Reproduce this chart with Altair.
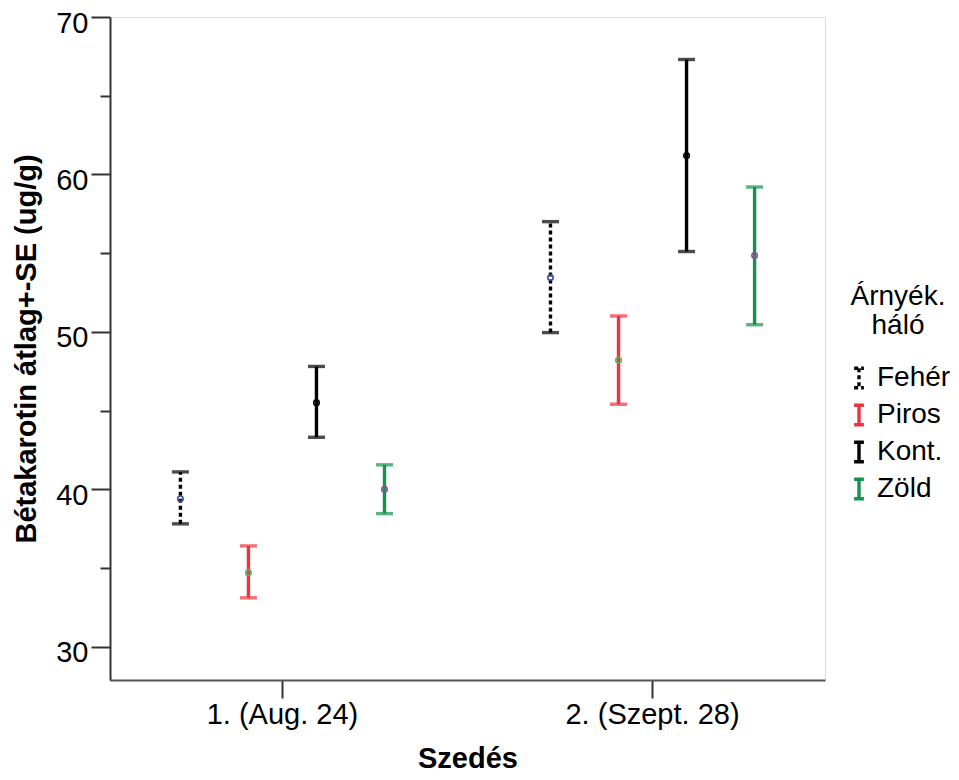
import altair as alt
import pandas as pd

harvests = ["1. (Aug. 24)", "2. (Szept. 28)"]
groups = ["Fehér", "Piros", "Kont.", "Zöld"]

mean_h1 = [39.4, 34.7, 45.5, 40.0]
low_h1 = [37.8, 33.1, 43.3, 38.45]
high_h1 = [41.1, 36.4, 47.8, 41.55]

mean_h2 = [53.45, 48.2, 61.2, 54.85]
low_h2 = [49.95, 45.4, 55.1, 50.45]
high_h2 = [57.0, 51.0, 67.3, 59.2]

bar_colors = ["#000000", "#ee3340", "#000000", "#14934a"]
marker_colors = ["#3a4f9e", "#5fb05f", "#000000", "#8c4f9a"]
dashes = [[4, 3], [1, 0], [1, 0], [1, 0]]

rows = []
for h, means, lows, highs in [
    (harvests[0], mean_h1, low_h1, high_h1),
    (harvests[1], mean_h2, low_h2, high_h2),
]:
    for i, g in enumerate(groups):
        rows.append({
            "harvest": h, "group": g, "mean": means[i], "lo": lows[i], "hi": highs[i],
            "barcolor": bar_colors[i], "markcolor": marker_colors[i],
        })
df = pd.DataFrame(rows)

FONT = "Liberation Sans"

legend = alt.Legend(
    title=["Árnyék.", "háló"],
    orient="none", legendX=735, legendY=266,
    titleFont=FONT, titleFontSize=28, titleFontWeight="normal", titleColor="black",
    titleAlign="center", titleAnchor="middle", titleLineHeight=29, titlePadding=24,
    labelFont=FONT, labelFontSize=28, labelColor="black", labelOffset=4,
    symbolType="M-0.5,-1H0.5M0,-1V1M-0.5,1H0.5", symbolSize=380, symbolStrokeWidth=3.4,
    symbolFillColor="transparent", rowPadding=3,
)

x_enc = alt.X(
    "harvest:N", sort=harvests,
    scale=alt.Scale(paddingInner=0.068, paddingOuter=0),
    axis=alt.Axis(
        title="Szedés", labelAngle=0, labelFont=FONT, labelFontSize=29, labelColor="black",
        labelPadding=2, tickSize=18, tickWidth=2, tickColor="#333", domainColor="#555",
        domainWidth=2, titleFont=FONT, titleFontSize=29, titleFontWeight="bold",
        titleColor="black", titlePadding=15,
    ),
)
xo_enc = alt.XOffset("group:N", sort=groups, scale=alt.Scale(paddingInner=0, paddingOuter=0.535))

y_scale = alt.Scale(domain=[27.88, 70], nice=False, zero=False)
y_axis = alt.Axis(
    title="Bétakarotin átlag+-SE (ug/g)",
    values=[30, 35, 40, 45, 50, 55, 60, 65, 70],
    labelExpr="datum.value % 10 === 0 ? datum.label : ''",
    tickSize={"condition": {"test": "datum.value % 10 === 0", "value": 19}, "value": 10},
    tickWidth=2, tickColor="#333", domainColor="#333", domainWidth=2,
    labelFont=FONT, labelFontSize=29, labelColor="black", labelPadding=3, labelOffset=6,
    titleFont=FONT, titleFontSize=29, titleFontWeight="bold", titleColor="black",
    titlePadding=14, grid=False,
)

base = alt.Chart(df)

rules = base.mark_rule(strokeWidth=3.4).encode(
    x=x_enc, xOffset=xo_enc,
    y=alt.Y("lo:Q", scale=y_scale, axis=y_axis),
    y2="hi:Q",
    color=alt.Color("group:N", sort=groups,
                    scale=alt.Scale(domain=groups, range=bar_colors), legend=legend),
    strokeDash=alt.StrokeDash("group:N", sort=groups,
                              scale=alt.Scale(domain=groups, range=dashes), legend=legend),
)

caps_top = base.mark_tick(size=17, thickness=3.4).encode(
    x=x_enc, xOffset=xo_enc,
    y=alt.Y("hi:Q", scale=y_scale),
    fill=alt.Fill("barcolor:N", scale=None),
)
caps_bot = base.mark_tick(size=17, thickness=3.4).encode(
    x=x_enc, xOffset=xo_enc,
    y=alt.Y("lo:Q", scale=y_scale),
    fill=alt.Fill("barcolor:N", scale=None),
)
points = base.mark_point(shape="circle", size=30, strokeWidth=1.6, filled=False, opacity=1).encode(
    x=x_enc, xOffset=xo_enc,
    y=alt.Y("mean:Q", scale=y_scale),
    stroke=alt.Stroke("markcolor:N", scale=None),
)

chart = alt.layer(rules, caps_top, caps_bot, points).properties(
    width=715, height=663,
    autosize=alt.AutoSizeParams(type="none"),
    padding={"left": 102, "top": 9, "right": 126, "bottom": 92},
).configure_view(stroke="#666", strokeWidth=2).configure(background="white")

chart.save("out.html", embed_options={"renderer": "svg", "actions": False})
